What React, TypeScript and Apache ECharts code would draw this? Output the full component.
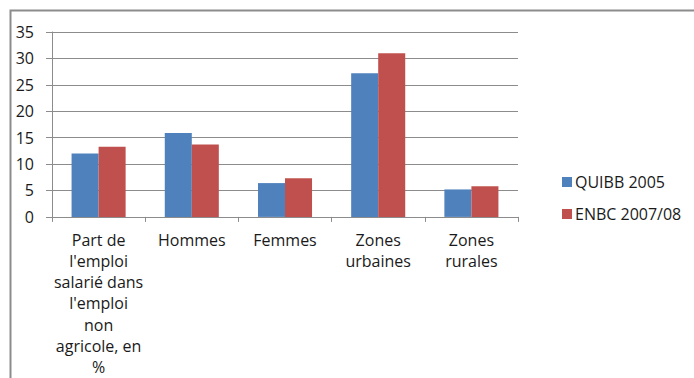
import React, { useEffect, useRef } from "react";
import * as echarts from "echarts";

const categories = [
  "Part de\nl'emploi\nsalarié dans\nl'emploi\nnon\nagricole, en\n%",
  "Hommes",
  "Femmes",
  "Zones\nurbaines",
  "Zones\nrurales",
];
const seriesNames = ["QUIBB 2005", "ENBC 2007/08"];
const quibb2005 = [12.0, 15.9, 6.4, 27.2, 5.2];
const enbc2007 = [13.3, 13.7, 7.3, 31.0, 5.8];
const colors = ["#4F81BD", "#C0504D"];

const FONT = "'Open Sans', 'Noto Sans', sans-serif";

export default function App() {
  const ref = useRef<HTMLDivElement>(null);
  useEffect(() => {
    if (!ref.current) return;
    const chart = echarts.init(ref.current, undefined, { renderer: "svg" });
    chart.setOption({
      animation: false,
      backgroundColor: "#ffffff",
      textStyle: { fontFamily: FONT },
      graphic: [
        {
          type: "rect",
          shape: { x: 10.5, y: 10.5, width: 800, height: 500 },
          style: { fill: "none", stroke: "#8c8c8c", lineWidth: 2 },
          silent: true,
        },
      ],
      grid: { left: 52, top: 32, width: 466, height: 185 },
      legend: {
        orient: "vertical",
        left: 557,
        top: 169,
        itemWidth: 10,
        itemHeight: 10,
        itemGap: 16,
        icon: "rect",
        textStyle: { fontFamily: FONT, fontSize: 16, color: "#1a1a1a", padding: [0, 0, 0, -2] },
        data: seriesNames,
      },
      xAxis: {
        type: "category",
        data: categories,
        axisLine: { lineStyle: { color: "#8c8c8c", width: 1 } },
        axisTick: { show: true, length: 5, lineStyle: { color: "#8c8c8c" } },
        axisLabel: {
          interval: 0,
          margin: 12,
          fontSize: 16,
          lineHeight: 21.3,
          color: "#1a1a1a",
          fontFamily: FONT,
          align: "center",
        },
      },
      yAxis: {
        type: "value",
        min: 0,
        max: 35,
        interval: 5,
        axisLine: { show: true, lineStyle: { color: "#8c8c8c", width: 1 } },
        axisTick: { show: true, length: 6, lineStyle: { color: "#8c8c8c" } },
        splitLine: { lineStyle: { color: "#8c8c8c", width: 1 } },
        axisLabel: { margin: 18, fontSize: 16, color: "#1a1a1a", fontFamily: FONT },
      },
      series: [
        {
          name: seriesNames[0],
          type: "bar",
          data: quibb2005,
          itemStyle: { color: colors[0] },
          barGap: "0%",
          barCategoryGap: "42%",
        },
        {
          name: seriesNames[1],
          type: "bar",
          data: enbc2007,
          itemStyle: { color: colors[1] },
          barGap: "0%",
          barCategoryGap: "42%",
        },
      ],
    });
    return () => chart.dispose();
  }, []);
  return (
    <div
      ref={ref}
      style={{ position: "fixed", left: 0, top: 0, width: 694, height: 378 }}
    />
  );
}
